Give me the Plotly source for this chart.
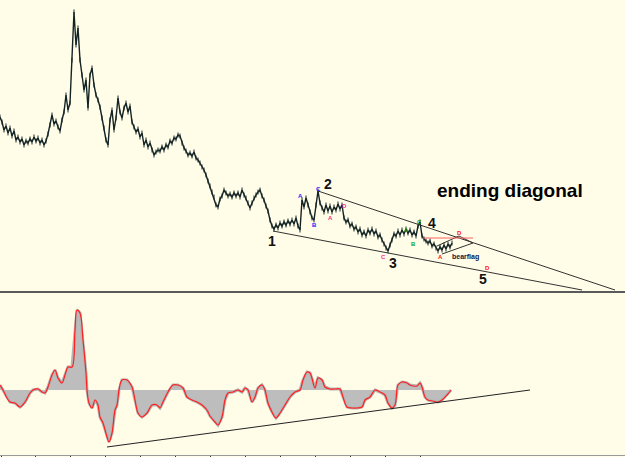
import plotly.graph_objects as go

# ---------------- data ----------------
# price (bar index, arbitrary price units)
price_x = list(range(0, 453, 2))
price_y_px = [117,122,130,126,133,128,136,131,140,137,142,139,145,141,143,139,142,137,141,138,
              143,140,145,141,134,125,115,124,121,127,131,120,112,95,110,103,60,12,45,28,
              60,75,90,80,108,75,68,85,95,100,107,118,128,140,145,120,110,130,118,98,
              112,118,108,103,112,106,122,127,132,129,137,133,145,140,147,143,150,155,152,150,
              151,147,150,145,147,141,143,138,139,135,136,143,148,151,155,153,156,152,158,160,
              163,167,170,175,181,186,192,197,205,207,199,196,190,193,196,194,197,193,196,193,
              197,190,195,198,203,208,203,198,195,192,190,196,200,206,211,220,226,229,225,228,
              223,226,222,225,221,224,220,224,218,226,230,200,207,198,205,212,218,220,205,191,
              203,208,212,205,211,206,212,207,210,204,209,205,218,222,220,226,224,229,227,232,
              229,235,232,236,230,233,229,234,231,237,235,240,244,248,251,245,240,234,236,231,
              235,230,234,229,233,230,235,232,236,226,222,236,239,241,243,241,246,244,248,251,
              247,250,245,249,244,247,243]
price = [290 - v for v in price_y_px]

# oscillator
osc_x = [0,3,7,10,15,20,25,30,33,38,42,45,48,52,55,58,62,65,68,72,75,77,80,83,86,87,89,92,95,98,
         100,103,107,109,112,115,117,119,122,127,132,135,138,142,147,152,157,160,163,168,173,178,
         183,187,192,197,202,207,210,215,218,222,225,228,233,238,242,245,248,252,255,258,262,265,
         268,272,276,280,285,290,295,300,303,307,310,315,318,322,325,330,335,340,343,347,352,357,
         362,365,370,375,380,385,388,392,395,398,402,407,410,417,420,422,425,428,433,438,442,447,451]
osc_y_px = [385,390,398,402,403,407,402,393,390,389,392,393,387,375,370,378,383,375,367,367,330,310,
            313,340,373,390,403,408,400,405,417,423,437,442,433,410,405,390,380,380,387,400,413,417,
            413,405,405,408,402,392,385,385,388,397,400,402,405,410,416,422,425,417,400,393,392,390,
            392,388,390,402,397,388,385,390,403,412,418,413,405,397,392,390,380,372,373,388,378,380,
            387,389,389,389,397,407,408,408,407,400,397,390,392,395,403,408,405,385,382,383,385,386,
            383,387,397,400,401,402,400,395,390]
osc = [390 - v for v in osc_y_px]

# trendlines (price panel)
upper_line_x = [318, 615]
upper_line_y = [99, 0]
lower_line_x = [273, 582]
lower_line_y = [59, 0]
flag_red_x = [423, 473]
flag_red_y = [52, 52]
flag_upper_x = [437, 459, 473]
flag_upper_y = [44, 54, 47]
flag_lower_x = [442, 473]
flag_lower_y = [36, 47]
# oscillator trendline
osc_line_x = [107, 530]
osc_line_y = [-57, 0]

# wave labels
wave_text = ["1", "2", "3", "4", "5"]
wave_x = [272, 328, 393, 432, 483]
wave_y = [49, 106, 27, 67, 11]

# sub-wave letters
sub_text = ["A", "B", "C", "A", "D", "C", "A", "B", "C", "A", "D", "D"]
sub_x = [300, 314, 318, 330, 344, 383, 406, 413, 419, 440, 459, 487]
sub_y = [94, 65, 101, 72, 84, 33, 60, 46, 68, 33, 57, 22]
sub_col = ["#2020ff", "#2020ff", "#2020ff", "#ff2a8a", "#ff2a8a", "#ff2a8a",
           "#10a010", "#10a010", "#10a010", "#ff1010", "#ff1010", "#ff1010"]

# ---------------- figure ----------------
BG = "#FFFCE8"
fig = go.Figure()

fig.add_trace(go.Scatter(x=price_x, y=price, mode="lines",
                         line=dict(color="#142424", width=1.4), xaxis="x", yaxis="y",
                         error_y=dict(type="constant", value=2.5, thickness=1, width=0, color="#1c2c2c"),
                         hoverinfo="skip"))
for lx, ly, col in [(upper_line_x, upper_line_y, "#333333"),
                    (lower_line_x, lower_line_y, "#333333"),
                    (flag_upper_x, flag_upper_y, "#333333"),
                    (flag_lower_x, flag_lower_y, "#333333"),
                    (flag_red_x, flag_red_y, "#ff6060")]:
    fig.add_trace(go.Scatter(x=lx, y=ly, mode="lines", line=dict(color=col, width=1),
                             xaxis="x", yaxis="y", hoverinfo="skip"))

fig.add_trace(go.Scatter(x=osc_x, y=osc, mode="lines", fill="tozeroy",
                         fillcolor="#BDBDBD", line=dict(color="#B5B5B5", width=3),
                         xaxis="x2", yaxis="y2", hoverinfo="skip"))
fig.add_trace(go.Scatter(x=osc_x, y=osc, mode="lines", line=dict(color="#ff2020", width=1.2, shape="spline"),
                         xaxis="x2", yaxis="y2", hoverinfo="skip"))
fig.add_trace(go.Scatter(x=osc_line_x, y=osc_line_y, mode="lines", line=dict(color="#222222", width=1),
                         xaxis="x2", yaxis="y2", hoverinfo="skip"))

annotations = []
for t, x, y in zip(wave_text, wave_x, wave_y):
    annotations.append(dict(x=x, y=y, xref="x", yref="y", text="<b>" + t + "</b>", showarrow=False,
                            font=dict(family="Liberation Sans, Arial", size=14, color="#111111")))
for t, x, y, c in zip(sub_text, sub_x, sub_y, sub_col):
    annotations.append(dict(x=x, y=y, xref="x", yref="y", text="<b>" + t + "</b>", showarrow=False,
                            font=dict(family="Liberation Sans, Arial", size=6, color=c)))
annotations.append(dict(x=510, y=100, xref="x", yref="y", text="<b>ending diagonal</b>", showarrow=False,
                        font=dict(family="Liberation Sans, Arial", size=19, color="#000000")))
annotations.append(dict(x=465, y=33, xref="x", yref="y", text="<b>bearflag</b>", showarrow=False,
                        font=dict(family="Liberation Sans, Arial", size=7, color="#101840")))

tick_positions = [1 + 34.95 * i for i in range(13)]

fig.update_layout(
    width=625, height=457, margin=dict(l=0, r=0, t=0, b=0),
    paper_bgcolor=BG, plot_bgcolor=BG, showlegend=False,
    xaxis=dict(domain=[0, 1], range=[0, 625], anchor="y", showticklabels=False, showgrid=False,
               zeroline=False, showline=True, linecolor="#5a5a5a", linewidth=2, ticks=""),
    yaxis=dict(domain=[166 / 457, 1], range=[-1, 290], showticklabels=False, showgrid=False,
               zeroline=False, showline=False),
    xaxis2=dict(domain=[0, 1], range=[0, 625], anchor="y2", showticklabels=False, showgrid=False,
                zeroline=False, showline=True, linecolor="#9a9a9a", linewidth=1,
                ticks="outside", ticklen=3, tickcolor="#333333", tickmode="array",
                tickvals=tick_positions),
    yaxis2=dict(domain=[2 / 457, 165 / 457], range=[-65, 98], showticklabels=False, showgrid=False,
                zeroline=False, showline=False),
    annotations=annotations,
)

fig.write_html("out.html")
